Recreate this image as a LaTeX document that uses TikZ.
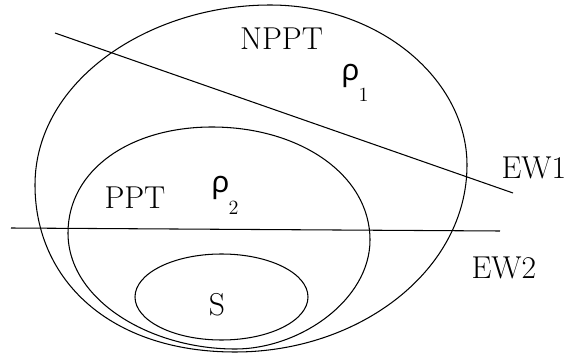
\documentclass[tikz,border=0pt]{standalone}
\usepackage{fontspec}
\newfontfamily\rhofont{Noto Sans}
\newcommand{\rhosub}[1]{{\rhofont\fontsize{17}{19}\selectfont ρ}\kern-0.5pt\raisebox{-12pt}{\fontsize{11.5}{12}\selectfont #1}}

\begin{document}
\begin{tikzpicture}[x=0.02cm, y=-0.02cm, line width=0.6pt,
    lbl/.style={inner sep=0pt, font=\fontsize{18}{21}\selectfont}]
\useasboundingbox (0,0) rectangle (569,355);

% the three sets
\draw (270,5) .. controls (380,5) and (467,80) .. (467,165)
    .. controls (467,270) and (360,352) .. (235,352)
    .. controls (110,352) and (35,280) .. (35,185)
    .. controls (35,80) and (150,5) .. cycle;
\draw (212,127) .. controls (300,127) and (370,175) .. (370,240)
    .. controls (370,300) and (300,349) .. (235,349)
    .. controls (150,349) and (68,300) .. (68,233)
    .. controls (68,170) and (130,127) .. cycle;
\draw (221.5,297) ellipse [x radius=86.5, y radius=43];

% witnesses
\coordinate (wa) at (55,33);
\coordinate (wb) at (513,193);
\coordinate (wc) at (11,228);
\coordinate (wd) at (500,231);
\draw (wa) -- (wb);
\draw (wc) -- (wd);

% labels
\node (nppt) [lbl, anchor=base] at (281.5,50) {NPPT};
\node (rho1) [lbl, anchor=base west] at (341,80) {\rhosub{1}};
\node (ppt) [lbl, anchor=base west] at (104,208) {PPT};
\node (rho2) [lbl, anchor=base west] at (211,193) {\rhosub{2}};
\node (ew1) [lbl, anchor=base west] at (501,178) {EW1};
\node (ew2) [lbl, anchor=base west] at (471,278) {EW2};
\node (sep) [lbl, anchor=base] at (217,315) {S};
\end{tikzpicture}
\end{document}
